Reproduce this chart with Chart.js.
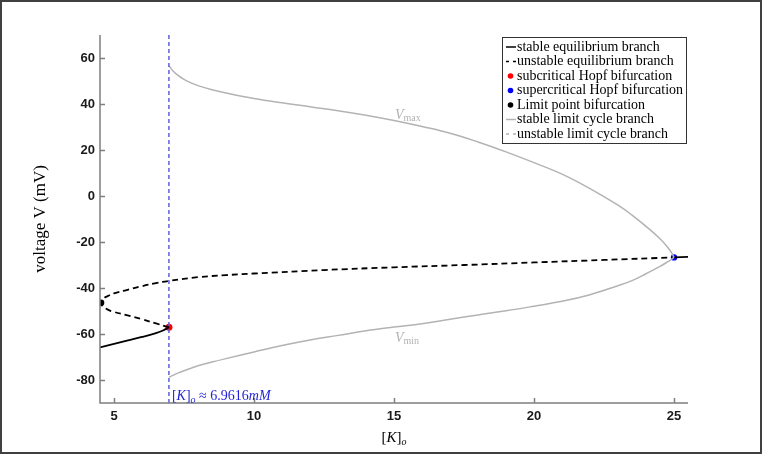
<!DOCTYPE html>
<html>
<head>
<meta charset="utf-8">
<script src="https://cdn.jsdelivr.net/npm/chart.js@4.4.0/dist/chart.umd.min.js"></script>
<style>
  html, body { margin: 0; padding: 0; background: #fff; }
  #wrap { width: 762px; height: 454px; position: relative; }
</style>
</head>
<body>
<div id="wrap"><canvas id="chart"></canvas></div>
<script>
// [K]_o in mM, voltage in mV
const kCritical = 6.9616;

const eqStableLowK = [4.5, 5.0, 5.5, 6.0, 6.5, 6.75, 6.9616];
const eqStableLowV = [-65.8, -64.3, -62.8, -61.3, -59.6, -58.5, -57.1];

const eqStableHighK = [25.0, 25.5];
const eqStableHighV = [-26.7, -26.5];

// from the subcritical Hopf point back round the fold and up to the supercritical one
const eqUnstableK = [6.9616, 6.5, 6.0, 5.45, 5.0, 4.8, 4.6, 4.54, 4.6, 4.8, 5.0, 5.45, 6.0, 6.5, 6.9616,
  8.0, 9.0, 10.0, 12.5, 15.0, 17.5, 20.0, 22.5, 25.0];
const eqUnstableV = [-57.1, -55.4, -53.6, -51.8, -50.4, -49.5, -48.0, -46.4, -44.8, -43.4, -42.3, -40.9, -39.2, -37.9, -36.9,
  -35.3, -34.4, -33.7, -32.2, -31.0, -30.0, -28.9, -27.8, -26.7];

const cycleK = [6.9616, 7.1, 7.3, 7.5, 7.75, 8.0, 8.5, 9.0, 10.0, 11.0, 12.0, 13.0, 14.0, 15.0, 16.0, 17.0,
  18.0, 19.0, 20.0, 21.0, 22.0, 23.0, 23.5, 24.0, 24.5, 24.8, 24.9, 24.95, 25.0];
const cycleVmax = [56.6, 54.5, 52.3, 50.7, 49.2, 48.0, 46.2, 44.8, 42.4, 40.5, 38.8, 37.1, 35.1, 32.8, 30.2, 27.3,
  23.5, 19.2, 14.5, 9.5, 3.2, -4.0, -8.3, -13.2, -18.6, -22.7, -24.4, -25.5, -26.7];
const cycleVmin = [-78.8, -78.0, -76.9, -76.0, -74.9, -73.8, -72.2, -70.7, -67.8, -65.0, -62.6, -60.6, -58.6, -57.0, -55.5, -53.6,
  -51.7, -49.9, -47.9, -45.8, -42.9, -39.0, -36.8, -33.8, -30.6, -28.4, -27.6, -27.15, -26.7];

const subHopf = [6.9616, -57.1];
const superHopf = [25.0, -26.7];
const limitPoint = [4.54, -46.4];

const xTicks = [5, 10, 15, 20, 25];
const yTicks = [-80, -60, -40, -20, 0, 20, 40, 60];

const legendLabels = [
  "stable equilibrium branch",
  "unstable equilibrium branch",
  "subcritical Hopf bifurcation",
  "supercritical Hopf bifurcation",
  "Limit point bifurcation",
  "stable limit cycle branch",
  "unstable limit cycle branch",
];

const SERIF = '"Liberation Serif", "Times New Roman", serif';
const SANS = '"Liberation Sans", Arial, sans-serif';
const GRAY = "#b3b3b3";
const AXIS = "#7f7f7f";

const pts = (xs, ys) => xs.map((x, i) => ({ x: x, y: ys[i] }));

function lineSet(data, color, width, dash, tension) {
  return {
    data: data,
    showLine: true,
    borderColor: color,
    borderWidth: width,
    borderDash: dash || [],
    pointRadius: 0,
    fill: false,
    tension: tension || 0,
  };
}

function dotSet(p, color, r) {
  return {
    data: [{ x: p[0], y: p[1] }],
    showLine: false,
    pointRadius: r,
    pointBackgroundColor: color,
    pointBorderColor: color,
    borderWidth: 0,
  };
}

// draws pieces of text one after the other, each with its own font and shift
function drawRuns(ctx, runs, x, y, align) {
  let total = 0;
  runs.forEach((r) => { ctx.font = r.font; total += ctx.measureText(r.text).width; });
  let cx = align === "center" ? x - total / 2 : x;
  runs.forEach((r) => {
    ctx.font = r.font;
    ctx.fillText(r.text, cx, y + (r.dy || 0));
    cx += ctx.measureText(r.text).width;
  });
}

const figurePlugin = {
  id: "figure",
  beforeDraw(chart) {
    const ctx = chart.ctx;
    ctx.save();
    ctx.fillStyle = "#fff";
    ctx.fillRect(0, 0, chart.width, chart.height);
    ctx.strokeStyle = "#404040";
    ctx.lineWidth = 2;
    ctx.strokeRect(1, 1, chart.width - 2, chart.height - 2);
    ctx.restore();
  },
  afterDraw(chart) {
    const ctx = chart.ctx;
    const { left, right, top, bottom } = chart.chartArea;
    const xs = chart.scales.x, ys = chart.scales.y;
    ctx.save();

    // axes with inward ticks
    ctx.strokeStyle = AXIS;
    ctx.lineWidth = 1.5;
    ctx.beginPath();
    ctx.moveTo(left, top);
    ctx.lineTo(left, bottom);
    ctx.lineTo(right, bottom);
    xTicks.forEach((v) => {
      const px = Math.round(xs.getPixelForValue(v)) + 0.5;
      ctx.moveTo(px, bottom);
      ctx.lineTo(px, bottom - 5);
    });
    yTicks.forEach((v) => {
      const py = Math.round(ys.getPixelForValue(v)) + 0.5;
      ctx.moveTo(left, py);
      ctx.lineTo(left + 5, py);
    });
    ctx.stroke();

    // axis titles
    ctx.fillStyle = "#000";
    ctx.textBaseline = "alphabetic";
    ctx.textAlign = "left";
    drawRuns(ctx, [
      { text: "[", font: "15px " + SERIF },
      { text: "K", font: "italic 15px " + SERIF },
      { text: "]", font: "15px " + SERIF },
      { text: "o", font: "italic 10px " + SERIF, dy: 3 },
    ], (left + right) / 2, 442, "center");

    ctx.save();
    ctx.translate(45, (top + bottom) / 2);
    ctx.rotate(-Math.PI / 2);
    ctx.textAlign = "center";
    ctx.font = "17px " + SERIF;
    ctx.fillText("voltage V (mV)", 0, 0);
    ctx.restore();

    // branch labels
    ctx.fillStyle = GRAY;
    drawRuns(ctx, [
      { text: "V", font: "italic 14px " + SERIF },
      { text: "max", font: "10px " + SERIF, dy: 2 },
    ], 395, 119, "left");
    drawRuns(ctx, [
      { text: "V", font: "italic 14px " + SERIF },
      { text: "min", font: "10px " + SERIF, dy: 2 },
    ], 395, 342, "left");

    // critical [K]_o marker text
    ctx.fillStyle = "#1f1fd6";
    drawRuns(ctx, [
      { text: "[", font: "14px " + SERIF },
      { text: "K", font: "italic 14px " + SERIF },
      { text: "]", font: "14px " + SERIF },
      { text: "o", font: "italic 10px " + SERIF, dy: 3 },
      { text: " \u2248 " + kCritical.toFixed(4), font: "14px " + SERIF },
      { text: "mM", font: "italic 14px " + SERIF },
    ], xs.getPixelForValue(kCritical) + 3, 400, "left");

    // legend
    const lx = 502, ly = 37, lw = 184, lh = 106;
    ctx.fillStyle = "#fff";
    ctx.fillRect(lx, ly, lw, lh);
    ctx.strokeStyle = "#333";
    ctx.lineWidth = 1;
    ctx.strokeRect(lx + 0.5, ly + 0.5, lw, lh);

    // fit the widest label to the box
    ctx.font = "12px " + SERIF;
    const fs = 12 * 166 / ctx.measureText(legendLabels[3]).width;
    const marks = [
      { kind: "line", color: "#000", dash: [] },
      { kind: "line", color: "#000", dash: [3, 4] },
      { kind: "dot", color: "#ff0000" },
      { kind: "dot", color: "#0000ff" },
      { kind: "dot", color: "#000" },
      { kind: "line", color: GRAY, dash: [] },
      { kind: "line", color: GRAY, dash: [3, 4] },
    ];
    legendLabels.forEach((label, i) => {
      const cy = 47 + i * 14.5;
      const m = marks[i];
      if (m.kind === "line") {
        ctx.strokeStyle = m.color;
        ctx.lineWidth = 1.5;
        ctx.setLineDash(m.dash);
        ctx.beginPath();
        ctx.moveTo(506, cy);
        ctx.lineTo(516, cy);
        ctx.stroke();
        ctx.setLineDash([]);
      } else {
        ctx.fillStyle = m.color;
        ctx.beginPath();
        ctx.arc(510.5, cy, 2.8, 0, Math.PI * 2);
        ctx.fill();
      }
      ctx.fillStyle = "#000";
      ctx.textBaseline = "middle";
      ctx.font = fs.toFixed(2) + "px " + SERIF;
      ctx.fillText(label, 517, cy);
    });
    ctx.restore();
  },
};

const ctx = document.getElementById("chart").getContext("2d");

new Chart(ctx, {
  type: "scatter",
  data: {
    datasets: [
      lineSet([{ x: kCritical, y: -90 }, { x: kCritical, y: 70 }], "#6060e0", 1.5, [4, 3]),
      lineSet(pts(cycleK, cycleVmax), GRAY, 1.5, null, 0.4),
      lineSet(pts(cycleK, cycleVmin), GRAY, 1.5, null, 0.4),
      lineSet(pts(eqStableLowK, eqStableLowV), "#000", 1.8, null, 0.4),
      lineSet(pts(eqStableHighK, eqStableHighV), "#000", 1.8),
      lineSet(pts(eqUnstableK, eqUnstableV), "#000", 1.8, [6, 4], 0.4),
      dotSet(limitPoint, "#000", 3.2),
      dotSet(subHopf, "#ff0000", 3.5),
      dotSet(superHopf, "#0000ff", 3.2),
    ],
  },
  options: {
    responsive: true,
    maintainAspectRatio: false,
    animation: false,
    devicePixelRatio: 1,
    layout: { padding: { left: 0, top: 35, right: 74, bottom: 0 } },
    plugins: {
      legend: { display: false },
      tooltip: { enabled: false },
    },
    scales: {
      x: {
        type: "linear",
        min: 4.5,
        max: 25.5,
        afterBuildTicks: (s) => { s.ticks = xTicks.map((v) => ({ value: v })); },
        afterFit: (s) => { s.height = 51; },
        grid: { display: false, drawTicks: false },
        border: { display: false },
        ticks: { color: "#1a1a1a", padding: 6, maxRotation: 0, autoSkip: false, font: { family: SANS, size: 13, weight: "bold" } },
      },
      y: {
        type: "linear",
        min: -90,
        max: 70,
        afterBuildTicks: (s) => { s.ticks = yTicks.map((v) => ({ value: v })); },
        afterFit: (s) => { s.width = 100; },
        grid: { display: false, drawTicks: false },
        border: { display: false },
        ticks: { color: "#1a1a1a", padding: 5, autoSkip: false, font: { family: SANS, size: 13, weight: "bold" } },
      },
    },
  },
  plugins: [figurePlugin],
});
</script>
</body>
</html>
